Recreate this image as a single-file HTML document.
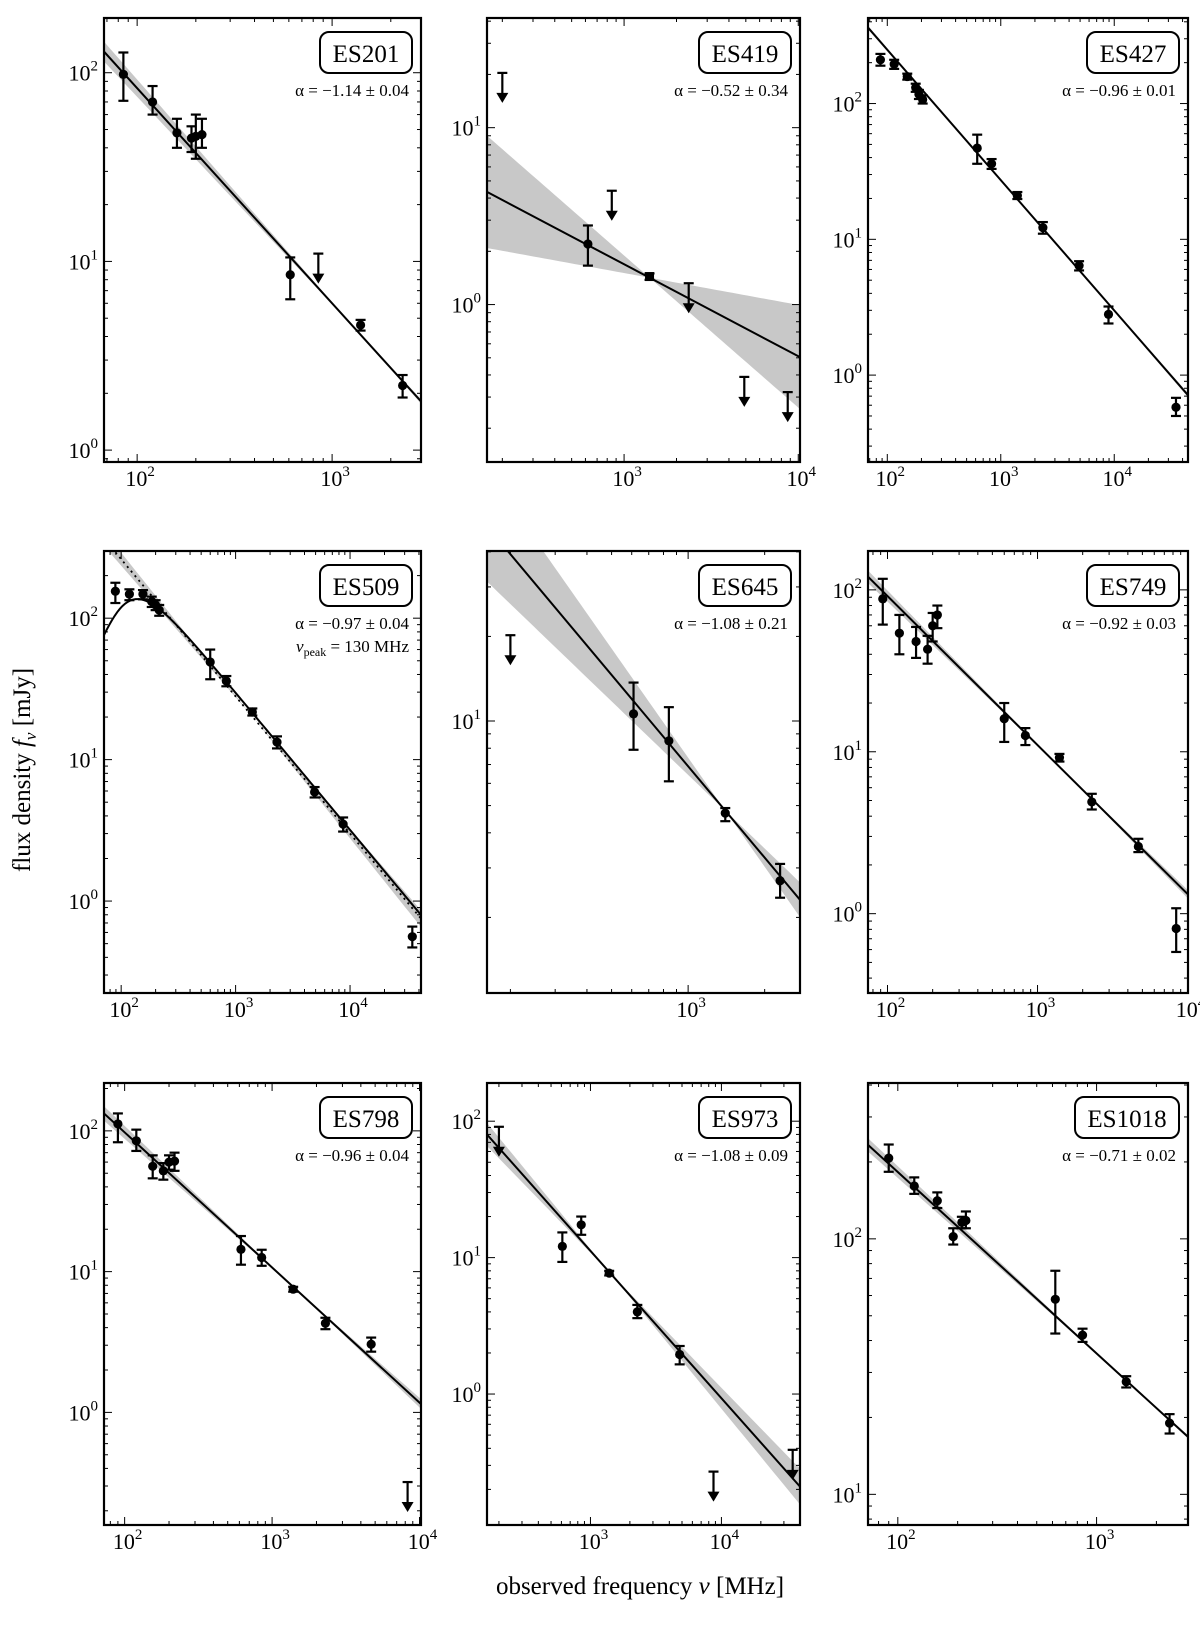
<!DOCTYPE html>
<html><head><meta charset="utf-8"><title>Radio SEDs</title>
<style>
html,body{margin:0;padding:0;background:#fff;}
svg{display:block;font-family:"Liberation Serif","DejaVu Serif",serif;}
</style></head>
<body>
<svg id="fig" width="1200" height="1625" viewBox="0 0 1200 1625" xmlns="http://www.w3.org/2000/svg">
<text transform="translate(30,770) rotate(-90)" text-anchor="middle" font-size="25">flux density <tspan font-style="italic">f</tspan><tspan font-style="italic" font-size="17" dy="6">ν</tspan><tspan dy="-6"> [mJy]</tspan></text>
<text x="640" y="1594" text-anchor="middle" font-size="25">observed frequency <tspan font-style="italic">ν</tspan> [MHz]</text>
</svg>
<script>
// ---------- data (MHz, mJy) ----------
const es201_freq=[85,120,160,190,200,215,610,1400,2300];
const es201_flux=[98,70,48,45,46,47,8.5,4.6,2.2];
const es201_lo=[71,60,40,38,35,40,6.3,4.3,1.9];
const es201_hi=[128,85,57,52,60,57,10.5,4.9,2.5];
const es201_limFreq=[850];
const es201_limFlux=[11];
const es201_fit=[6.0,-1.14,0.04];

const es419_freq=[620,1400];
const es419_flux=[2.2,1.44];
const es419_lo=[1.66,1.38];
const es419_hi=[2.8,1.5];
const es419_limFreq=[200,850,2350,4900,8700];
const es419_limFlux=[20.4,4.4,1.32,0.39,0.32];
const es419_fit=[1.69,-0.52,0.34];

const es427_freq=[87,115,150,178,190,205,620,830,1400,2350,4900,8900,35000];
const es427_flux=[210,195,158,131,117,107,47,36,21,12.2,6.4,2.8,0.58];
const es427_lo=[190,180,150,122,108,100,36,33,19.8,11,5.9,2.4,0.5];
const es427_hi=[232,210,166,140,126,115,59,39,22.3,13.4,6.9,3.2,0.68];
const es427_limFreq=[];
const es427_limFlux=[];
const es427_fit=[27.3,-0.96,0.01];

const es509_freq=[89,118,155,185,200,215,600,830,1400,2300,4900,8700,35000];
const es509_flux=[155,148,148,131,124,114,49,36,21.7,13.3,5.9,3.5,0.56];
const es509_lo=[128,134,136,120,114,104,37,33,20.5,12,5.4,3.1,0.47];
const es509_hi=[178,160,158,142,134,124,60,39,23,14.6,6.4,3.9,0.66];
const es509_limFreq=[];
const es509_limFlux=[];
const es509_fit=[28,-0.97,0.04];
const es509_peak=[215,130,1.7];

const es645_freq=[610,840,1400,2300];
const es645_flux=[10.6,8.5,4.7,2.7];
const es645_lo=[7.9,6.1,4.4,2.35];
const es645_hi=[13.7,11.2,4.9,3.1];
const es645_limFreq=[200];
const es645_limFlux=[20.2];
const es645_fit=[6.9,-1.08,0.21];

const es749_freq=[93,120,155,185,200,215,600,830,1400,2300,4700,8400];
const es749_flux=[88,54,48,43,60,70,16,12.6,9.2,4.9,2.6,0.81];
const es749_lo=[61,40,38,35,48,58,11.5,11,8.7,4.4,2.4,0.58];
const es749_hi=[117,70,59,52,72,80,20,14,9.7,5.5,2.9,1.08];
const es749_limFreq=[];
const es749_limFlux=[];
const es749_fit=[11.0,-0.92,0.03];

const es798_freq=[90,120,155,183,200,218,615,850,1390,2300,4700];
const es798_flux=[112,85,56,52,60,61,14.4,12.6,7.5,4.3,3.05];
const es798_lo=[83,72,46,45,53,52,11.2,11,7.2,3.9,2.7];
const es798_hi=[133,102,67,59,67,70,17.9,14.3,7.8,4.7,3.4];
const es798_limFreq=[8300];
const es798_limFlux=[0.32];
const es798_fit=[10.7,-0.96,0.04];

const es973_freq=[610,850,1390,2280,4800];
const es973_flux=[12.1,17.4,7.7,4.0,1.95];
const es973_lo=[9.3,14.7,7.4,3.6,1.65];
const es973_hi=[15.3,20,8.0,4.5,2.25];
const es973_limFreq=[200,8700,35000];
const es973_limFlux=[91,0.27,0.39];
const es973_fit=[11.2,-1.08,0.09];

const es1018_freq=[90,121,158,190,210,220,620,850,1410,2330];
const es1018_flux=[207,161,141,102,116,118,58,42,27.6,19];
const es1018_lo=[183,150,132,95,110,110,42.6,39.5,26.2,17.3];
const es1018_hi=[234,174,152,110,122,128,75,44.5,29,20.6];
const es1018_limFreq=[];
const es1018_limFlux=[];
const es1018_fit=[35.6,-0.71,0.02];

const names=["ES201","ES419","ES427","ES509","ES645","ES749","ES798","ES973","ES1018"];
const alphaText=["α = −1.14 ± 0.04","α = −0.52 ± 0.34","α = −0.96 ± 0.01","α = −0.97 ± 0.04","α = −1.08 ± 0.21","α = −0.92 ± 0.03","α = −0.96 ± 0.04","α = −1.08 ± 0.09","α = −0.71 ± 0.02"];

// ---------- layout ----------
const layout=[
 {x0:104,x1:421,y0:18,y1:462,lx:[1.83,3.456],ly:[-0.063,2.29],fr:es201_freq,fl:es201_flux,lo:es201_lo,hi:es201_hi,lf:es201_limFreq,lv:es201_limFlux,fit:es201_fit},
 {x0:487,x1:800,y0:18,y1:462,lx:[2.213,4.01],ly:[-0.89,1.62],fr:es419_freq,fl:es419_flux,lo:es419_lo,hi:es419_hi,lf:es419_limFreq,lv:es419_limFlux,fit:es419_fit,sq:[1]},
 {x0:868,x1:1188,y0:18,y1:462,lx:[1.83,4.65],ly:[-0.64,2.63],fr:es427_freq,fl:es427_flux,lo:es427_lo,hi:es427_hi,lf:es427_limFreq,lv:es427_limFlux,fit:es427_fit},
 {x0:104,x1:421,y0:551,y1:993,lx:[1.85,4.62],ly:[-0.65,2.475],fr:es509_freq,fl:es509_flux,lo:es509_lo,hi:es509_hi,lf:es509_limFreq,lv:es509_limFlux,fit:es509_fit,peak:es509_peak},
 {x0:487,x1:800,y0:551,y1:993,lx:[2.209,3.44],ly:[0.032,1.605],fr:es645_freq,fl:es645_flux,lo:es645_lo,hi:es645_hi,lf:es645_limFreq,lv:es645_limFlux,fit:es645_fit},
 {x0:868,x1:1188,y0:551,y1:993,lx:[1.87,4.003],ly:[-0.49,2.24],fr:es749_freq,fl:es749_flux,lo:es749_lo,hi:es749_hi,lf:es749_limFreq,lv:es749_limFlux,fit:es749_fit},
 {x0:104,x1:421,y0:1083,y1:1525,lx:[1.86,4.01],ly:[-0.80,2.34],fr:es798_freq,fl:es798_flux,lo:es798_lo,hi:es798_hi,lf:es798_limFreq,lv:es798_limFlux,fit:es798_fit},
 {x0:487,x1:800,y0:1083,y1:1525,lx:[2.21,4.60],ly:[-0.96,2.28],fr:es973_freq,fl:es973_flux,lo:es973_lo,hi:es973_hi,lf:es973_limFreq,lv:es973_limFlux,fit:es973_fit},
 {x0:868,x1:1188,y0:1083,y1:1525,lx:[1.85,3.46],ly:[0.88,2.61],fr:es1018_freq,fl:es1018_flux,lo:es1018_lo,hi:es1018_hi,lf:es1018_limFreq,lv:es1018_limFlux,fit:es1018_fit}
];

const NS="http://www.w3.org/2000/svg";
const svg=document.getElementById('fig');
function mk(tag,attrs,parent){const e=document.createElementNS(NS,tag);for(const k in attrs)e.setAttribute(k,attrs[k]);(parent||svg).appendChild(e);return e;}

layout.forEach((p,i)=>{
  const g=mk('g',{});
  
  
  const sx=v=>p.x0+(Math.log10(v)-p.lx[0])/(p.lx[1]-p.lx[0])*(p.x1-p.x0);
  const sy=v=>p.y1-(Math.log10(v)-p.ly[0])/(p.ly[1]-p.ly[0])*(p.y1-p.y0);
  const cid='clip'+i;
  const cp=mk('clipPath',{id:cid},g);
  mk('rect',{x:p.x0,y:p.y0,width:p.x1-p.x0,height:p.y1-p.y0},cp);
  const plot=mk('g',{'clip-path':'url(#'+cid+')'},g);
  const A=p.fit[0],al=p.fit[1],sg=p.fit[2],piv=1400;
  const fv=(v,a)=>A*Math.pow(v/1000,al)*Math.pow(v/piv,a-al);
  const N=60;let up=[],dn=[];
  for(let k=0;k<=N;k++){const lv=p.lx[0]+(p.lx[1]-p.lx[0])*k/N;const v=Math.pow(10,lv);
    const a=fv(v,al+sg),b=fv(v,al-sg);up.push([sx(v),sy(Math.max(a,b))]);dn.push([sx(v),sy(Math.min(a,b))]);}
  const band=mk('polygon',{points:up.concat(dn.reverse()).map(q=>q.join(',')).join(' '),fill:'#c8c8c8',stroke:'none'},plot);
  
  
  const v0=Math.pow(10,p.lx[0]),v1=Math.pow(10,p.lx[1]);
  const line=mk('line',{x1:sx(v0),y1:sy(fv(v0,al)),x2:sx(v1),y2:sy(fv(v1,al)),stroke:'#000','stroke-width':2},plot);
  if(p.peak){
    line.setAttribute('stroke-dasharray','2,4');
    line.setAttribute('stroke-width','1.8');
    
    
    let pts=[];
    for(let k=0;k<=120;k++){const v=Math.pow(10,p.lx[0]+(p.lx[1]-p.lx[0])*k/120);const x=v/p.peak[1];
      const f=p.peak[0]*Math.pow(x,p.peak[2])*(1-Math.exp(-Math.pow(x,al-p.peak[2])));pts.push(sx(v)+','+sy(f));}
    const cv=mk('polyline',{points:pts.join(' '),fill:'none',stroke:'#000','stroke-width':2},plot);
    
    
  } else {
    
    
  }
  p.fr.forEach((v,j)=>{
    const pg=mk('g',{},g);
    
    
    const x=sx(v),yl=sy(p.lo[j]),yh=sy(p.hi[j]);
    mk('line',{x1:x,y1:yl,x2:x,y2:yh,stroke:'#000','stroke-width':2.2},pg);
    mk('line',{x1:x-5,y1:yl,x2:x+5,y2:yl,stroke:'#000','stroke-width':2.2},pg);
    mk('line',{x1:x-5,y1:yh,x2:x+5,y2:yh,stroke:'#000','stroke-width':2.2},pg);
    if(p.sq&&p.sq.includes(j)) mk('rect',{x:x-4.5,y:sy(p.fl[j])-4.5,width:9,height:9,fill:'#000'},pg);
    else mk('circle',{cx:x,cy:sy(p.fl[j]),r:4.6,fill:'#000'},pg);
  });
  p.lf.forEach((v,j)=>{
    const lg=mk('g',{},g);
    
    
    const x=sx(v),yt=sy(p.lv[j]),yb=yt+30;
    mk('line',{x1:x-5,y1:yt,x2:x+5,y2:yt,stroke:'#000','stroke-width':2.2},lg);
    mk('line',{x1:x,y1:yt,x2:x,y2:yb-8,stroke:'#000','stroke-width':2.2},lg);
    mk('polygon',{points:`${x-6},${yb-10} ${x+6},${yb-10} ${x},${yb}`,fill:'#000'},lg);
  });
  const tk=mk('g',{stroke:'#000','stroke-width':1},g);
  for(let d=Math.floor(p.lx[0]);d<=Math.ceil(p.lx[1]);d++){
    for(let m=1;m<=9;m++){const lv=d+Math.log10(m);if(lv<p.lx[0]-1e-3||lv>p.lx[1]+1e-3)continue;
      const x=sx(Math.pow(10,lv)),L=m==1?8:4;
      mk('line',{x1:x,y1:p.y1,x2:x,y2:p.y1-L},tk);mk('line',{x1:x,y1:p.y0,x2:x,y2:p.y0+L},tk);
      if(m==1){const t=mk('text',{x:x+3,y:p.y1+24,'text-anchor':'middle','font-size':22,stroke:'none',fill:'#000'},g);
        
        
        t.innerHTML='10<tspan font-size="15" dy="-10">'+d+'</tspan>';}
    }}
  for(let d=Math.floor(p.ly[0]);d<=Math.ceil(p.ly[1]);d++){
    for(let m=1;m<=9;m++){const lv=d+Math.log10(m);if(lv<p.ly[0]-1e-3||lv>p.ly[1]+1e-3)continue;
      const y=sy(Math.pow(10,lv)),L=m==1?8:4;
      mk('line',{x1:p.x0,y1:y,x2:p.x0+L,y2:y},tk);mk('line',{x1:p.x1,y1:y,x2:p.x1-L,y2:y},tk);
      if(m==1){const t=mk('text',{x:p.x0-6,y:y+8,'text-anchor':'end','font-size':22,stroke:'none',fill:'#000'},g);
        
        
        t.innerHTML='10<tspan font-size="15" dy="-10">'+d+'</tspan>';}
    }}
  const fr=mk('rect',{x:p.x0,y:p.y0,width:p.x1-p.x0,height:p.y1-p.y0,fill:'none',stroke:'#000','stroke-width':2.2},g);
  
  
  const bw=names[i].length>5?104:92;
  const nb=mk('rect',{x:p.x1-9-bw,y:p.y0+14,width:bw,height:41,rx:9,fill:'#fff',stroke:'#000','stroke-width':2},g);
  
  
  const nt=mk('text',{x:p.x1-9-bw/2,y:p.y0+44,'text-anchor':'middle','font-size':25,fill:'#000'},g);
  
  
  nt.textContent=names[i];
  const at=mk('text',{x:p.x1-12,y:p.y0+78,'text-anchor':'end','font-size':17,fill:'#000'},g);
  
  
  at.textContent=alphaText[i];
  if(p.peak){
    const pt=mk('text',{x:p.x1-12,y:p.y0+101,'text-anchor':'end','font-size':17,fill:'#000'},g);
    
    
    pt.innerHTML='<tspan font-style="italic">ν</tspan><tspan font-size="12" dy="4">peak</tspan><tspan dy="-4"> = 130 MHz</tspan>';
  }
});
</script>
</body></html>
